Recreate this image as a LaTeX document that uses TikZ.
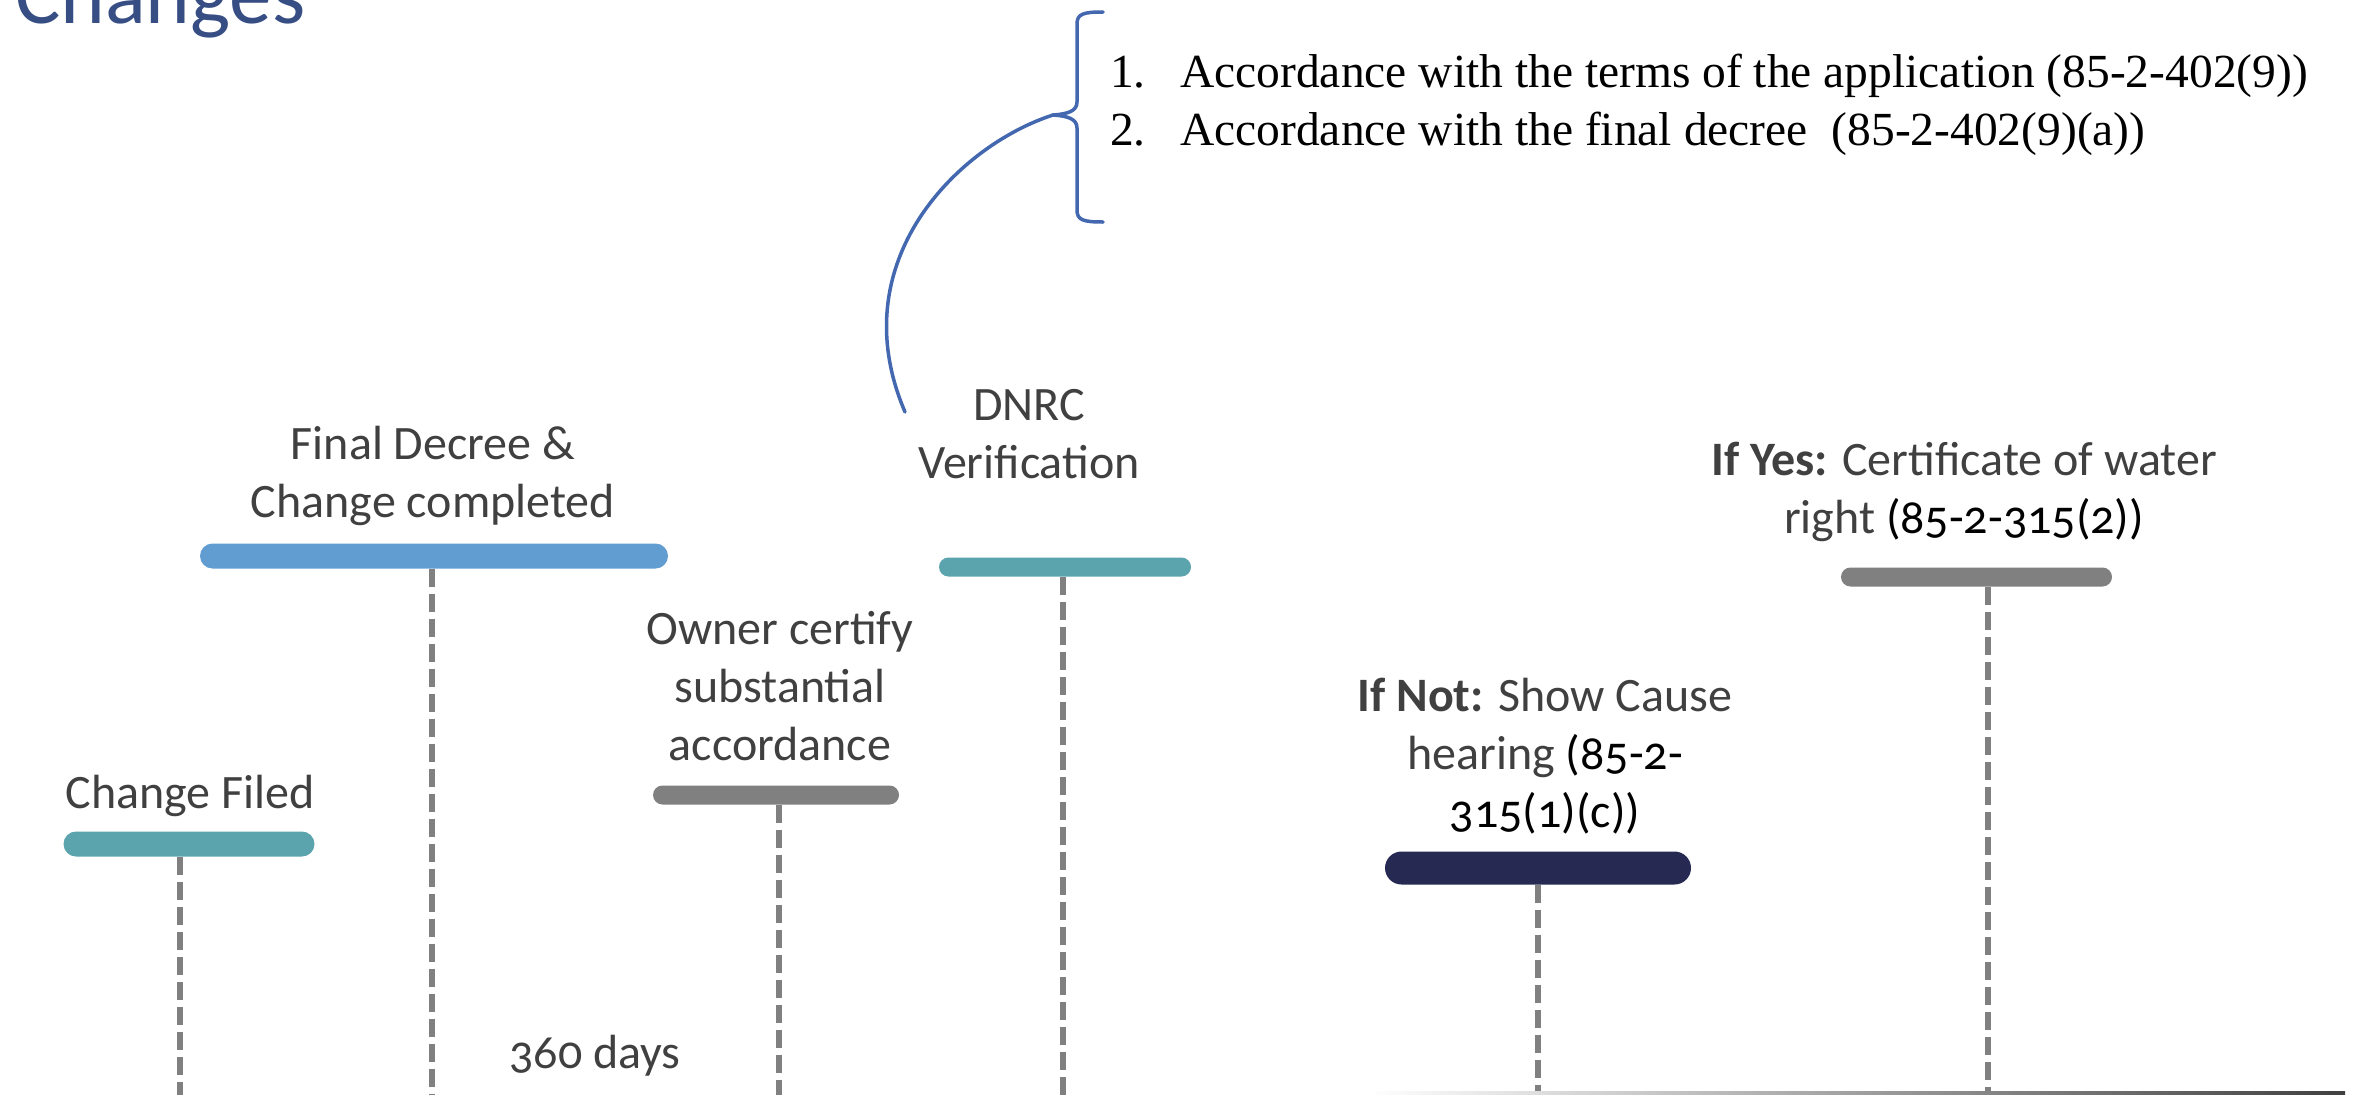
\documentclass[tikz,border=0pt]{standalone}
\usepackage{fontspec}
\setmainfont{Carlito}[Numbers=OldStyle]
\newfontfamily\listfont{Liberation Serif}
\definecolor{tealbar}{RGB}{91,163,173}
\definecolor{bluebar}{RGB}{98,157,209}
\definecolor{graybar}{RGB}{128,128,128}
\definecolor{navybar}{RGB}{38,42,83}
\definecolor{txtgray}{RGB}{64,64,64}
\definecolor{brkblue}{RGB}{68,104,176}
\definecolor{ttlblue}{RGB}{55,78,133}
\begin{document}
\begin{tikzpicture}[x=1pt,y=-1pt,
  barbox/.style={rectangle, inner sep=0pt, draw=none},
  thickbar/.style={barbox, minimum height=25pt, rounded corners=12.5pt},
  thinbar/.style={barbox, minimum height=19pt, rounded corners=9.5pt},
  fatbar/.style={barbox, minimum height=33pt, rounded corners=16.5pt},
  lbl/.style={font=\fontsize{48}{58}\selectfont, text=txtgray, align=center, anchor=base, inner sep=0pt},
  dashline/.style={draw=graybar, line width=5.5pt, dash pattern=on 18pt off 7pt},
  brline/.style={draw=brkblue, line width=3.5pt, line cap=round, line join=round},
  listtxt/.style={anchor=base west, inner sep=0pt, font=\listfont\fontsize{47.5}{58}\selectfont, text=black}
]
\useasboundingbox (0,0) rectangle (2364,1095);
\fill[white] (0,0) rectangle (2364,1095);

% title (cut off at top)
\node[anchor=base west, inner sep=0pt, font=\fontsize{85}{90}\selectfont, text=ttlblue] (title) at (15,23) {Changes};

% bracket list
\node[listtxt] (item1) at (1110,87) {\makebox[70pt][l]{1.}Accordance with the terms of the application (85-2-402(9))};
\node[listtxt] (item2) at (1110,145) {\makebox[70pt][l]{2.}Accordance with the final decree\ \ (85-2-402(9)(a))};

\coordinate (brtip) at (1053,115);
\coordinate (curveEnd) at (905,412);
\draw[brline] (1103,12) .. controls (1083,12) and (1077,14) .. (1077,24) -- (1077,102)
  .. controls (1077,111) and (1068,114) .. (brtip)
  .. controls (1068,116) and (1077,119) .. (1077,128) -- (1077,210)
  .. controls (1077,220) and (1083,222) .. (1103,222);
\draw[brline] (brtip) .. controls (960,145) and (840,260) .. (curveEnd);

% bars
\node[thickbar, minimum width=251pt, fill=tealbar] (bCF) at (189,844) {};
\node[thickbar, minimum width=468pt, fill=bluebar] (bFD) at (434,556) {};
\node[thinbar, minimum width=246pt, fill=graybar] (bOW) at (776,795) {};
\node[thinbar, minimum width=252pt, fill=tealbar] (bDN) at (1065,567) {};
\node[fatbar, minimum width=306pt, fill=navybar] (bNT) at (1538,868) {};
\node[thinbar, minimum width=271pt, fill=graybar] (bYS) at (1976.5,577) {};

% dashed drops
\coordinate (dCF) at (180,1095);
\coordinate (dFD) at (432,1095);
\coordinate (dOW) at (779,1095);
\coordinate (dDN) at (1063,1095);
\coordinate (dNT) at (1538,1095);
\coordinate (dYS) at (1988,1095);
\draw[dashline] (bCF.south -| dCF) -- (dCF);
\draw[dashline] (bFD.south -| dFD) -- (dFD);
\draw[dashline] (bOW.south -| dOW) -- (dOW);
\draw[dashline] (bDN.south -| dDN) -- (dDN);
\draw[dashline] (bNT.south -| dNT) -- (dNT);
\draw[dashline] (bYS.south -| dYS) -- (dYS);

% labels (anchor = baseline of the last line)
\node[lbl] (tCF) at (190,808) {Change Filed};
\node[lbl] (tFD) at (433,517) {Final Decree \&\\Change completed};
\node[lbl] (tOW) at (780,760) {Owner certify\\substantial\\accordance};
\node[lbl] (tDN) at (1029,478) {DNRC\\Verification};
\node[lbl] (tNT) at (1545,827) {\textbf{If Not:} Show Cause\\hearing \textcolor{black}{(85-2-}\\\textcolor{black}{315(1)(c))}};
\node[lbl] (tYS) at (1964,533) {\textbf{If Yes:} Certificate of water\\right \textcolor{black}{(85-2-315(2))}};
\node[lbl] (tDays) at (595,1068) {360 days};

% bottom axis line (fading in from the left)
\shade[left color=white, right color=black!75] (1368,1091.5) rectangle (2345,1094.5);
\end{tikzpicture}
\end{document}
